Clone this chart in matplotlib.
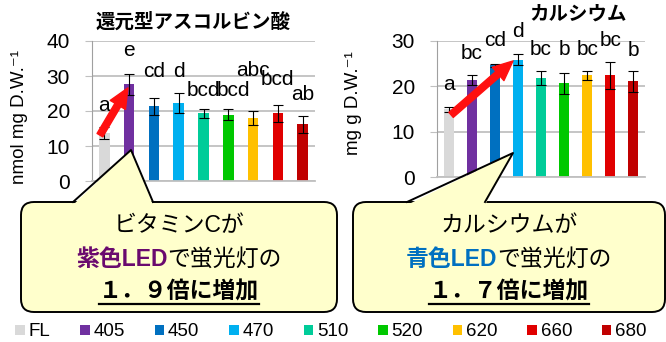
import matplotlib
matplotlib.use("Agg")
import matplotlib.pyplot as plt
from matplotlib.patches import FancyBboxPatch, Polygon, Patch
from matplotlib.lines import Line2D

plt.rcParams["font.family"] = ["Liberation Sans", "Noto Sans CJK JP", "DejaVu Sans"]

# --- data ---
groups = ["FL", "405", "450", "470", "510", "520", "620", "660", "680"]
colors = ["#d9d9d9", "#7030a0", "#0070c0", "#00b0f0", "#00cc99",
          "#00c800", "#ffc000", "#e00000", "#c00000"]

asc_mean = [13.8, 27.6, 21.3, 22.2, 19.3, 19.0, 17.9, 19.3, 16.2]
asc_err = [1.7, 2.9, 2.5, 2.9, 1.3, 1.7, 2.0, 2.4, 2.4]
asc_letters = ["a", "e", "cd", "d", "bcd", "bcd", "abc", "bcd", "ab"]

ca_mean = [14.9, 21.3, 24.6, 25.9, 21.8, 20.7, 22.4, 22.4, 21.1]
ca_err = [0.6, 1.1, 0.4, 1.3, 1.6, 2.3, 1.0, 2.9, 2.3]
ca_letters = ["a", "bc", "cd", "d", "bc", "b", "bc", "bc", "b"]

# letter label heights (layout, data units)
asc_lab_y = [21.7, 37.4, 31.2, 31.2, 26.0, 26.0, 31.7, 28.9, 24.6]
asc_lab_dx = [0, 0, 0, 0, 0, 0.2, 0, 0, 0]
ca_lab_y = [20.5, 27.3, 30.2, 32.1, 28.2, 28.2, 28.2, 30.2, 28.0]

W, H = 666, 342
fig = plt.figure(figsize=(W / 100, H / 100), dpi=100)


def bar_panel(rect, means, errs, letters, lab_y, lab_dx, ymax, ylabel, lab_xy):
    ax = fig.add_axes(rect)
    x = range(len(means))
    ax.bar(x, means, width=0.43, color=colors, zorder=2,
           yerr=errs, capsize=3.5,
           error_kw=dict(elinewidth=0.8, capthick=0.8, ecolor="black", zorder=3))
    ax.set_xlim(-0.5, len(means) - 0.5)
    ax.set_ylim(0, ymax)
    ax.set_yticks(range(0, ymax + 1, 10))
    ax.set_xticks([])
    ax.grid(axis="y", color="#c0c0c0", lw=1.3, zorder=0)
    for s in ("top", "right"):
        ax.spines[s].set_visible(False)
    ax.spines["left"].set_color("#a0a0a0")
    ax.spines["bottom"].set_color("#c0c0c0")
    ax.spines["bottom"].set_linewidth(1.3)
    ax.tick_params(axis="y", length=5, color="#c0c0c0", pad=11, labelsize=15)
    for i, lab in enumerate(letters):
        ax.text(i + lab_dx[i], lab_y[i], lab, ha="center", va="center",
                fontsize=15, zorder=4, clip_on=False)
    ax.set_ylabel(ylabel, fontsize=13.5)
    ax.yaxis.set_label_coords(*lab_xy)
    return ax


axL = bar_panel([92 / W, 1 - 181 / H, 223 / W, 140 / H], asc_mean, asc_err,
                asc_letters, asc_lab_y, asc_lab_dx, 40, "nmol mg D.W.⁻¹", (-0.287, 0.46))
axR = bar_panel([437 / W, 1 - 177 / H, 208 / W, 136 / H], ca_mean, ca_err,
                ca_letters, ca_lab_y, [0] * 9, 30, "mg g D.W.⁻¹", (-0.36, 0.54))

fig.text(193 / W, 1 - 22 / H, "還元型アスコルビン酸", ha="center", va="center",
         fontsize=14, fontweight="bold")
fig.text(578 / W, 1 - 15 / H, "カルシウム", ha="center", va="center",
         fontsize=14, fontweight="bold")

arrow = dict(arrowstyle="simple,head_length=0.95,head_width=0.85,tail_width=0.32",
             color="#ff1010", shrinkA=0, shrinkB=0, mutation_scale=15)
axL.annotate("", xy=(0.95, 26.6), xytext=(-0.18, 13.1), arrowprops=arrow, zorder=5)
axR.annotate("", xy=(2.79, 25.6), xytext=(0.11, 13.7), arrowprops=arrow, zorder=5)

# --- callouts, drawn on a pixel-unit overlay ---
ov = fig.add_axes([0, 0, 1, 1], zorder=10)
ov.set_xlim(0, W)
ov.set_ylim(H, 0)
ov.axis("off")
ov.patch.set_alpha(0)

FILL = "#ffffcc"


def callout(x0, w, tail):
    y0, h = 202, 110
    ov.add_patch(FancyBboxPatch((x0, y0), w, h, boxstyle="round,pad=0,rounding_size=13",
                                fc=FILL, ec="black", lw=1.4))
    (bx1, tx, ty, bx2) = tail
    ov.add_patch(Polygon([(bx1, y0 + 3), (tx, ty), (bx2, y0 + 3)], closed=True,
                         fc=FILL, ec="none"))
    ov.add_line(Line2D([bx1, tx, bx2], [y0, ty, y0], color="black", lw=1.4))


callout(21, 316, (73, 131, 150, 153))
callout(353, 312, (407, 513, 153, 485))

renderer = fig.canvas.get_renderer()
FS = 16.5


def line(xc, y, parts, underline=False):
    texts = []
    for s, c, wgt in parts:
        t = ov.text(0, y, s, color=c, fontweight=wgt, fontsize=FS,
                    ha="left", va="center")
        texts.append(t)
    widths = [t.get_window_extent(renderer).width for t in texts]
    x = xc - sum(widths) / 2
    for t, wd in zip(texts, widths):
        t.set_x(x)
        x += wd
    if underline:
        ov.add_line(Line2D([xc - sum(widths) / 2, xc + sum(widths) / 2],
                           [y + 12, y + 12], color="black", lw=1.6))


line(179, 226, [("ビタミンCが", "black", "normal")])
line(179, 259, [("紫色LED", "#6a0a6e", "bold"), ("で蛍光灯の", "black", "normal")])
line(179, 292, [("１．９倍に増加", "black", "bold")], underline=True)

line(509, 226, [("カルシウムが", "black", "normal")])
line(509, 259, [("青色LED", "#0070c0", "bold"), ("で蛍光灯の", "black", "normal")])
line(509, 292, [("１．７倍に増加", "black", "bold")], underline=True)

handles = [Patch(fc=c, ec="none") for c in colors]
fig.legend(handles, groups, ncol=9, loc="center", bbox_to_anchor=(0.497, 1 - 332 / H),
           frameon=False, fontsize=13.5, handlelength=0.5, handleheight=0.5,
           handletextpad=0.2, columnspacing=1.6, borderpad=0)

fig.savefig("out.png", dpi=100)
